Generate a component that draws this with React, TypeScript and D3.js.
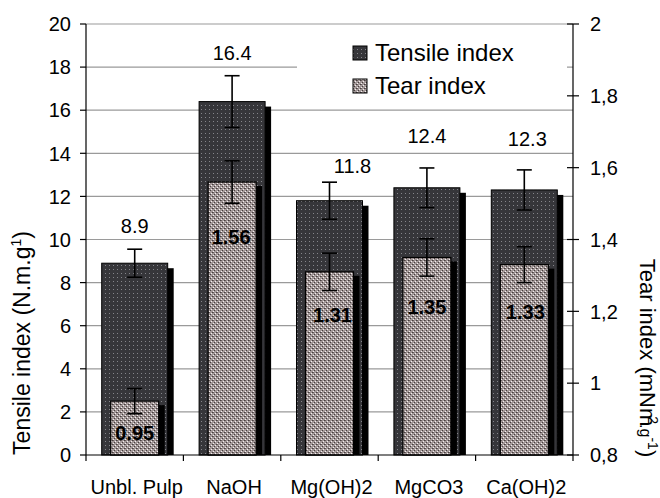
import React from 'react';
import * as d3 from 'd3';

const categories = ['Unbl. Pulp', 'NaOH', 'Mg(OH)2', 'MgCO3', 'Ca(OH)2'];
const tensile = [8.9, 16.4, 11.8, 12.4, 12.3];
const tensileErr = [0.65, 1.2, 0.86, 0.92, 0.93];
const tear = [0.95, 1.56, 1.31, 1.35, 1.33];
const tearErr = [0.035, 0.059, 0.052, 0.052, 0.05];
const leftTicks = [0, 2, 4, 6, 8, 10, 12, 14, 16, 18, 20];
const rightTicks = [0.8, 1, 1.2, 1.4, 1.6, 1.8, 2];
const seriesNames = ['Tensile index', 'Tear index'];

// hand nudges for the value labels (px), as placed in the original
const tensileLabelLift = [16, 16, 9, 25, 24];
const tensileLabelShift = [0, 0, 23, 0, 3];
const tearLabelDrop = [32, 55, 43, 50, 47];
const tearLabelShift = [0, -1, 3, 0, 1];

const W = 660;
const H = 498;
const left = 86;
const right = 573;
const top = 24;
const bottom = 455;
const font = '"Liberation Sans", Arial, sans-serif';

const App: React.FC = () => {
  const x = d3.scaleBand<string>().domain(categories).range([left, right]);
  const yL = d3.scaleLinear().domain([0, 20]).range([bottom, top]);
  const yR = d3.scaleLinear().domain([0.8, 2]).range([bottom, top]);
  const cx = (c: string) => (x(c) || 0) + x.bandwidth() / 2;

  const tw = 66;
  const rw = 48;
  const cap = 7.5;
  const fmtR = (v: number) => String(+v.toFixed(1)).replace('.', ',');

  return (
    <svg width={W} height={H} style={{ position: 'absolute', left: 0, top: 0, background: '#fff' }}
      fontFamily={font}>
      <defs>
        <pattern id="dark" width={4} height={4} patternUnits="userSpaceOnUse">
          <rect width={4} height={4} fill="#36363a" />
          <rect x={1} y={1} width={1} height={1} fill="#85858a" />
        </pattern>
        <pattern id="light" width={4} height={4} patternUnits="userSpaceOnUse">
          <rect width={4} height={4} fill="#a39898" />
          <rect x={0} y={0} width={1} height={1} fill="#463e3e" />
          <rect x={2} y={2} width={1} height={1} fill="#463e3e" />
          <rect x={1} y={0} width={1} height={1} fill="#6a6060" />
          <rect x={1} y={3} width={1} height={1} fill="#f4f0f0" />
          <rect x={3} y={1} width={1} height={1} fill="#f4f0f0" />
        </pattern>
      </defs>

      {/* gridlines */}
      {leftTicks.filter(t => t > 0).map(t => (
        <line key={'g' + t} x1={left} x2={right} y1={yL(t)} y2={yL(t)} stroke="#9a9a9a" strokeWidth={1.2} />
      ))}

      {/* legend background */}
      <rect x={297} y={27} width={270} height={77} fill="#fff" />

      {/* tensile bars */}
      {categories.map((c, i) => (
        <g key={'t' + c}>
          <rect x={cx(c) - tw / 2 + 6} y={yL(tensile[i]) + 5} width={tw} height={bottom - yL(tensile[i]) - 5} fill="#000" />
          <rect x={cx(c) - tw / 2} y={yL(tensile[i])} width={tw} height={bottom - yL(tensile[i])}
            fill="url(#dark)" stroke="#000" strokeWidth={1} />
        </g>
      ))}

      {/* tear bars */}
      {categories.map((c, i) => (
        <g key={'r' + c}>
          <rect x={cx(c) - rw / 2 + 6} y={yR(tear[i]) + 4} width={rw} height={bottom - yR(tear[i]) - 4} fill="#000" />
          <rect x={cx(c) - rw / 2} y={yR(tear[i])} width={rw} height={bottom - yR(tear[i])}
            fill="url(#light)" stroke="#000" strokeWidth={1.2} />
        </g>
      ))}

      {/* error bars */}
      {categories.map((c, i) => {
        const m = cx(c);
        const a = yL(tensile[i] + tensileErr[i]);
        const b = yL(tensile[i] - tensileErr[i]);
        const p = yR(tear[i] + tearErr[i]);
        const q = yR(tear[i] - tearErr[i]);
        return (
          <g key={'e' + c} stroke="#000" strokeWidth={1.6}>
            <line x1={m} x2={m} y1={a} y2={b} />
            <line x1={m - cap} x2={m + cap} y1={a} y2={a} />
            <line x1={m - cap} x2={m + cap} y1={b} y2={b} />
            <line x1={m} x2={m} y1={p} y2={q} />
            <line x1={m - cap} x2={m + cap} y1={p} y2={p} />
            <line x1={m - cap} x2={m + cap} y1={q} y2={q} />
          </g>
        );
      })}

      {/* value labels */}
      {categories.map((c, i) => (
        <text key={'vl' + c} x={cx(c) + tensileLabelShift[i]}
          y={yL(tensile[i] + tensileErr[i]) - tensileLabelLift[i]}
          textAnchor="middle" fontSize={20}>{tensile[i].toFixed(1)}</text>
      ))}
      {categories.map((c, i) => (
        <text key={'vr' + c} x={cx(c) + tearLabelShift[i]} y={yR(tear[i]) + tearLabelDrop[i]}
          textAnchor="middle" dominantBaseline="central" fontSize={20} fontWeight="bold">{tear[i].toFixed(2)}</text>
      ))}

      {/* left axis */}
      <line x1={left} x2={left} y1={top} y2={bottom} stroke="#000" strokeWidth={1.2} />
      {leftTicks.map(t => (
        <g key={'lt' + t}>
          <line x1={left - 6} x2={left} y1={yL(t)} y2={yL(t)} stroke="#000" strokeWidth={1.2} />
          <text x={71} y={yL(t)} dy="0.36em" textAnchor="end" fontSize={20}>{t}</text>
        </g>
      ))}

      {/* right axis */}
      <line x1={right} x2={right} y1={top} y2={bottom} stroke="#000" strokeWidth={1.2} />
      {rightTicks.map(t => (
        <g key={'rt' + t}>
          <line x1={right - 6} x2={right + 6} y1={yR(t)} y2={yR(t)} stroke="#000" strokeWidth={1.2} />
          <text x={590} y={yR(t)} dy="0.36em" fontSize={20}>{fmtR(t)}</text>
        </g>
      ))}

      {/* bottom axis */}
      <line x1={left} x2={right} y1={bottom} y2={bottom} stroke="#000" strokeWidth={1.2} />
      {categories.concat(['']).map((c, i) => {
        const xx = left + i * x.step();
        return <line key={'bt' + i} x1={xx} x2={xx} y1={bottom} y2={bottom + 6} stroke="#000" strokeWidth={1.2} />;
      })}
      {categories.map(c => (
        <text key={'cl' + c} x={cx(c) + 2} y={494} textAnchor="middle" fontSize={20}>{c}</text>
      ))}

      {/* legend */}
      {seriesNames.map((s, i) => (
        <g key={'lg' + s}>
          <rect x={353} y={46 + i * 33} width={14} height={14} fill={i === 0 ? 'url(#dark)' : 'url(#light)'}
            stroke="#000" strokeWidth={1} />
          <text x={375} y={61 + i * 33} fontSize={24}>{s}</text>
        </g>
      ))}

      {/* axis titles */}
      <text transform="translate(30,343) rotate(-90)" textAnchor="middle" fontSize={23}>
        Tensile index (N.m.g<tspan dy={-9} fontSize={14}>1</tspan><tspan dy={9}>)</tspan>
      </text>
      <text transform="translate(640,358) rotate(90)" textAnchor="middle" fontSize={22}>
        Tear index (mNm<tspan dx={-10} dy={-8} fontSize={14}>2</tspan>
        <tspan dy={8} fontSize={16}>.g</tspan><tspan dy={-8} fontSize={14}>-1</tspan><tspan dy={8}>)</tspan>
      </text>
    </svg>
  );
};

export default App;
